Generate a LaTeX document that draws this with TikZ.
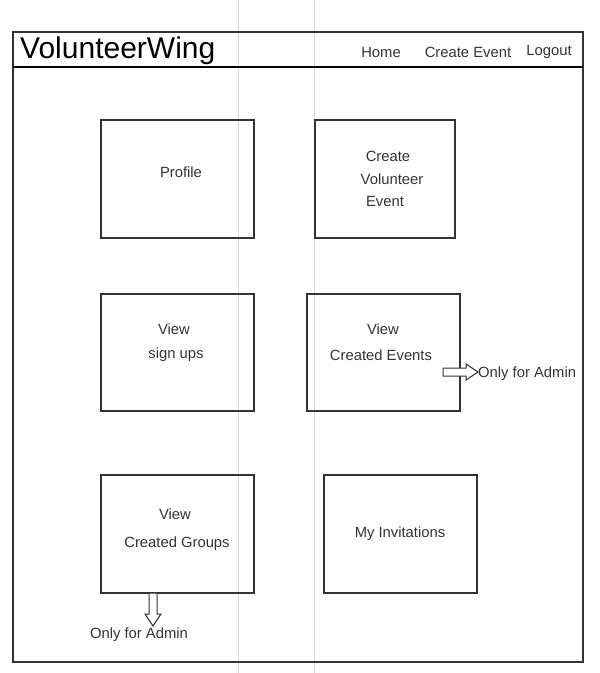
\documentclass[tikz,border=0pt]{standalone}
\usepackage{fontspec}
\setmainfont{Liberation Sans}
\begin{document}
\begin{tikzpicture}[x=1pt,y=-1pt,
  box/.style={draw=black!80,line width=1.2pt},
  lbl/.style={inner sep=0pt,font=\fontsize{14.8}{17}\selectfont,text=black!80},
  guide/.style={draw=black!15,line width=0.8pt},
  blockarrow/.style={draw=black!80,line width=1pt,fill=white}]
\useasboundingbox (0,0) rectangle (600,673);
% guide lines
\draw[guide] (238,0) -- (238,673);
\draw[guide] (314,0) -- (314,673);
% frame
\draw[box] (13,32) rectangle (583,662);
\draw[black,line width=2pt] (13,67) -- (583,67);
\node[anchor=west,inner sep=0pt,font=\fontsize{30}{32}\selectfont] (title) at (20,51) {VolunteerWing};
\node[lbl] (home) at (381,52) {Home};
\node[lbl] (create) at (468,52) {Create Event};
\node[lbl] (logout) at (549,52) {Logout};
% boxes
\draw[box] (101,120) rectangle (254,238);
\draw[box] (315,120) rectangle (455,238);
\draw[box] (101,294) rectangle (254,411);
\draw[box] (307,294) rectangle (460,411);
\draw[box] (101,475) rectangle (254,593);
\draw[box] (324,475) rectangle (477,593);
\coordinate (evR) at (443,372);
\coordinate (grB) at (153,593);
\node[lbl] (profile) at (181,172) {Profile};
\node[lbl] (cr1) at (388,156) {Create};
\node[lbl] (cr2) at (392,179) {Volunteer};
\node[lbl] (cr3) at (385,201) {Event};
\node[lbl] (su1) at (174,329) {View};
\node[lbl] (su2) at (176,355) {sign ups};
\node[lbl] (ce1) at (383,329) {View};
\node[lbl] (ce2) at (381,355) {Created Events};
\node[lbl] (cg1) at (175,514) {View};
\node[lbl] (cg2) at (177,544) {Created Groups};
\node[lbl] (inv) at (400,534) {My Invitations};
\node[lbl,anchor=west] (admin1) at (478,374) {Only for Admin};
\node[lbl] (admin2) at (139,635) {Only for Admin};
% block arrows
\draw[blockarrow] (evR) ++(0,-4) -- ++(23,0) -- ++(0,-4) -- ++(12,8) -- ++(-12,8) -- ++(0,-4) -- ++(-23,0) -- cycle;
\draw[blockarrow] (grB) ++(-4,0) -- ++(0,21) -- ++(-4,0) -- ++(8,12) -- ++(8,-12) -- ++(-4,0) -- ++(0,-21) -- cycle;
\end{tikzpicture}
\end{document}
